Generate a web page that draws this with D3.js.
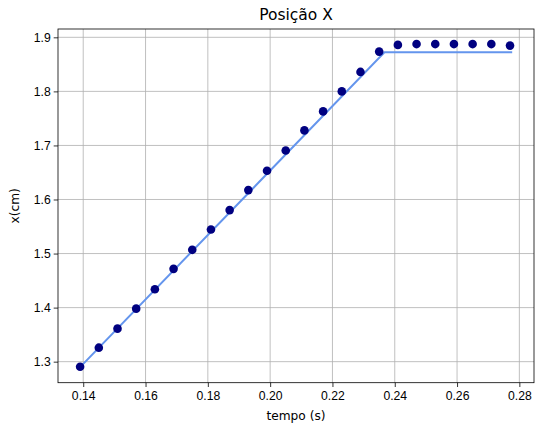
<!DOCTYPE html>
<html>
<head>
<meta charset="utf-8">
<script src="https://cdn.jsdelivr.net/npm/d3@7.9.0/dist/d3.min.js"></script>
<style>
  body { margin: 0; background: #fff; }
  svg { display: block; font-family: "DejaVu Sans", sans-serif; }
  .grid line { stroke: #b0b0b0; stroke-width: 0.8; }
  .axis text { font-size: 12.2px; fill: #000; }
  .axis line { stroke: #000; stroke-width: 0.8; }
</style>
</head>
<body>
<svg id="chart" width="536" height="429"></svg>
<script>
// measured points
const tempo = [0.139, 0.145, 0.151, 0.157, 0.163, 0.169, 0.175, 0.181, 0.187, 0.193, 0.199, 0.205,
  0.211, 0.217, 0.223, 0.229, 0.235, 0.241, 0.247, 0.253, 0.259, 0.265, 0.271, 0.277];
const posX = [1.2907, 1.3259, 1.3611, 1.3981, 1.4341, 1.4717, 1.5069, 1.5444, 1.5804, 1.6174, 1.6532, 1.6906,
  1.7278, 1.7630, 1.8000, 1.8360, 1.8736, 1.8860, 1.8875, 1.8875, 1.8875, 1.8875, 1.8875, 1.8847];

// fitted line
const fitT = [0.139, 0.2367, 0.2777];
const fitX = [1.2900, 1.8722, 1.8722];

const xTicks = [0.14, 0.16, 0.18, 0.20, 0.22, 0.24, 0.26, 0.28];
const yTicks = [1.3, 1.4, 1.5, 1.6, 1.7, 1.8, 1.9];

const pLeft = 58, pRight = 534, pTop = 29, pBottom = 382.7;
const svg = d3.select('#chart');

const x = d3.scaleLinear().domain([0.1319, 0.2847]).range([pLeft, pRight]);
const y = d3.scaleLinear().domain([1.2611, 1.9154]).range([pBottom, pTop]);

// grid
svg.append('g').attr('class', 'grid')
  .selectAll('line').data(xTicks).join('line')
  .attr('x1', d => x(d)).attr('x2', d => x(d))
  .attr('y1', pTop).attr('y2', pBottom);
svg.append('g').attr('class', 'grid')
  .selectAll('line').data(yTicks).join('line')
  .attr('x1', pLeft).attr('x2', pRight)
  .attr('y1', d => y(d)).attr('y2', d => y(d));

// fit line
const fit = fitT.map((t, i) => [t, fitX[i]]);
svg.append('path')
  .datum(fit)
  .attr('fill', 'none')
  .attr('stroke', '#6495ed')
  .attr('stroke-width', 2)
  .attr('d', d3.line().x(d => x(d[0])).y(d => y(d[1])));

// points
svg.append('g')
  .selectAll('circle').data(tempo).join('circle')
  .attr('cx', d => x(d))
  .attr('cy', (d, i) => y(posX[i]))
  .attr('r', 4.3)
  .attr('fill', '#000080');

// axes
svg.append('g').attr('class', 'axis')
  .attr('transform', `translate(0,${pBottom})`)
  .call(d3.axisBottom(x).tickValues(xTicks).tickFormat(d3.format('.2f')).tickSize(4.3).tickPadding(4))
  .call(g => g.select('.domain').remove());
svg.append('g').attr('class', 'axis')
  .attr('transform', `translate(${pLeft},0)`)
  .call(d3.axisLeft(y).tickValues(yTicks).tickFormat(d3.format('.1f')).tickSize(4.3).tickPadding(3))
  .call(g => g.select('.domain').remove());

// frame
svg.append('rect')
  .attr('x', pLeft).attr('y', pTop)
  .attr('width', pRight - pLeft).attr('height', pBottom - pTop)
  .attr('fill', 'none').attr('stroke', '#000').attr('stroke-width', 0.8);

// labels
svg.append('text')
  .attr('x', (pLeft + pRight) / 2).attr('y', 20)
  .attr('text-anchor', 'middle')
  .attr('font-size', 15.5)
  .text('Posição X');
svg.append('text')
  .attr('x', (pLeft + pRight) / 2).attr('y', 420)
  .attr('text-anchor', 'middle')
  .attr('font-size', 12.2)
  .text('tempo (s)');
svg.append('text')
  .attr('transform', `translate(19,${(pTop + pBottom) / 2}) rotate(-90)`)
  .attr('text-anchor', 'middle')
  .attr('font-size', 12.2)
  .text('x(cm)');
</script>
</body>
</html>
